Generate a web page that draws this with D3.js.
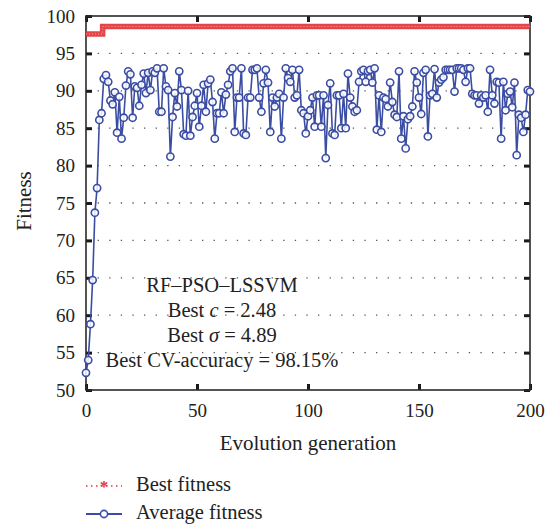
<!DOCTYPE html>
<html>
<head>
<meta charset="utf-8">
<script src="https://cdn.jsdelivr.net/npm/d3@7"></script>
<style>
  body { margin: 0; background: #fff; }
  svg { font-family: "Liberation Serif", "DejaVu Serif", serif; }
</style>
</head>
<body>
<svg id="chart" width="552" height="527"></svg>
<script>
// average fitness, one value per generation (0..200)
let avgFitness = [
  52.3, 54.0, 58.8, 64.7, 73.7, 77.0, 86.1, 87.0, 91.6, 92.1,
  91.2, 88.7, 88.2, 89.8, 84.4, 89.2, 83.6, 86.4, 90.7, 92.6,
  92.2, 86.4, 90.6, 90.4, 88.0, 90.8, 92.3, 89.7, 92.4, 90.1,
  92.6, 92.4, 93.0, 87.2, 87.2, 93.0, 90.6, 90.1, 81.2, 86.5,
  89.7, 87.9, 92.6, 90.1, 84.2, 84.0, 90.0, 84.0, 86.5, 88.0,
  89.7, 85.2, 88.0, 90.8, 87.2, 91.0, 91.5, 88.5, 83.6, 87.0,
  87.0, 89.8, 87.0, 89.5, 90.8, 92.6, 93.0, 84.5, 89.1, 89.1,
  93.0, 84.3, 84.1, 89.1, 89.1, 92.8, 92.8, 93.0, 89.1, 87.2,
  91.0, 92.8, 91.1, 84.5, 89.1, 87.9, 89.1, 89.6, 83.6, 89.1,
  93.0, 91.7, 91.2, 92.8, 89.1, 89.4, 92.8, 87.4, 87.0, 84.3,
  86.6, 87.4, 89.1, 85.2, 89.4, 89.4, 85.2, 89.4, 81.0, 88.1,
  91.0, 84.3, 84.1, 89.4, 89.4, 85.0, 89.6, 85.0, 92.3, 89.1,
  87.9, 87.2, 87.4, 91.2, 92.6, 92.8, 91.2, 92.6, 92.8, 91.1,
  93.0, 84.8, 89.4, 84.5, 89.1, 88.9, 87.9, 91.1, 88.5, 86.8,
  86.5, 92.6, 83.6, 86.6, 82.3, 86.2, 86.6, 87.9, 92.6, 91.1,
  89.1, 86.9, 92.4, 92.8, 83.9, 89.4, 89.6, 92.9, 89.1, 91.1,
  91.5, 91.8, 92.8, 92.8, 92.8, 92.8, 89.9, 93.0, 93.0, 93.0,
  92.8, 91.2, 93.0, 93.0, 89.6, 89.4, 89.4, 88.3, 89.4, 89.1,
  89.4, 87.2, 92.8, 89.4, 88.3, 91.2, 91.1, 83.6, 91.2, 87.4,
  89.6, 89.9, 87.8, 91.1, 81.4, 86.8, 86.4, 84.5, 86.8, 90.1,
  89.9
];

// best fitness: step from 97.6 to 98.6 after generation 7
let bestGens = [0, 7, 8, 200];
let bestVals = [97.6, 97.6, 98.6, 98.6];

let xTicks = [0, 50, 100, 150, 200];
let yTicks = [50, 55, 60, 65, 70, 75, 80, 85, 90, 95, 100];
let gridVals = [55, 60, 65, 70, 75, 80, 85, 90, 95];

let noteLines = ["RF\u2013PSO\u2013LSSVM", "Best c = 2.48", "Best \u03c3 = 4.89", "Best CV-accuracy = 98.15%"];
let legendLabels = ["Best fitness", "Average fitness"];

let blue = "#3b4da3";
let red = "#e3343a";

let svg = d3.select("#chart");

let xScale = d3.scaleLinear().domain([0, 200]).range([86, 530]);
let yScale = d3.scaleLinear().domain([50, 100]).range([390, 16]);

// dotted horizontal grid
svg.append("g")
   .selectAll("line")
   .data(gridVals)
   .enter()
   .append("line")
   .attr("x1", xScale(0))
   .attr("x2", xScale(200))
   .attr("y1", d => yScale(d))
   .attr("y2", d => yScale(d))
   .attr("stroke", "#555")
   .attr("stroke-width", 1.3)
   .attr("stroke-dasharray", "1.3,10.3");

// axes: inward thick ticks on all four sides
const styleAxis = (g) => {
    g.select(".domain").remove();
    g.selectAll(".tick line").attr("stroke", "#1a1a1a").attr("stroke-width", 3);
    g.selectAll(".tick text")
     .attr("fill", "#222")
     .style("font-size", "19px")
     .style("font-family", "Liberation Serif, DejaVu Serif, serif");
}

svg.append("g")
   .attr("transform", `translate(${xScale(0)},0)`)
   .call(d3.axisLeft(yScale).tickValues(yTicks).tickSize(-6).tickPadding(11))
   .call(styleAxis);

svg.append("g")
   .attr("transform", `translate(${xScale(200)},0)`)
   .call(d3.axisRight(yScale).tickValues(yTicks).tickSize(-6).tickFormat(""))
   .call(styleAxis);

svg.append("g")
   .attr("transform", `translate(0,${yScale(50)})`)
   .call(d3.axisBottom(xScale).tickValues(xTicks).tickSize(-6).tickPadding(14))
   .call(styleAxis);

svg.append("g")
   .attr("transform", `translate(0,${yScale(100)})`)
   .call(d3.axisTop(xScale).tickValues(xTicks).tickSize(-6).tickFormat(""))
   .call(styleAxis);

// frame
svg.append("rect")
   .attr("x", xScale(0))
   .attr("y", yScale(100))
   .attr("width", xScale(200) - xScale(0))
   .attr("height", yScale(50) - yScale(100))
   .attr("fill", "none")
   .attr("stroke", "#2a2a2a")
   .attr("stroke-width", 1.6);

// axis titles
svg.append("text")
   .attr("x", (xScale(0) + xScale(200)) / 2)
   .attr("y", 450)
   .attr("text-anchor", "middle")
   .attr("fill", "#222")
   .style("font-size", "21px")
   .text("Evolution generation");

svg.append("text")
   .attr("transform", `translate(31,201) rotate(-90)`)
   .attr("text-anchor", "middle")
   .attr("fill", "#222")
   .style("font-size", "21px")
   .text("Fitness");

// best fitness band
let bestData = bestGens.map((g, i) => [g, bestVals[i]]);
let bestLine = d3.line().x(d => xScale(d[0])).y(d => yScale(d[1])).curve(d3.curveStep);
svg.append("path")
   .datum(bestData)
   .attr("fill", "none")
   .attr("stroke", red)
   .attr("stroke-width", 5.5)
   .attr("opacity", 0.92)
   .attr("d", bestLine);

svg.append("path")
   .datum(bestData)
   .attr("fill", "none")
   .attr("stroke", "#f3a3a3")
   .attr("stroke-width", 1)
   .attr("stroke-dasharray", "1,2")
   .attr("d", bestLine);

// average fitness line + open circles
svg.append("path")
   .datum(avgFitness)
   .attr("fill", "none")
   .attr("stroke", blue)
   .attr("stroke-width", 1.6)
   .attr("d", d3.line().x((d, i) => xScale(i)).y(d => yScale(d)));

svg.append("g")
   .selectAll("circle")
   .data(avgFitness)
   .enter()
   .append("circle")
   .attr("cx", (d, i) => xScale(i))
   .attr("cy", d => yScale(d))
   .attr("r", 3.6)
   .attr("fill", "#fff")
   .attr("fill-opacity", 0.85)
   .attr("stroke", blue)
   .attr("stroke-width", 1.6);

// annotation
let note = svg.append("g").attr("fill", "#222").style("font-size", "20.5px");
let noteY = [292, 317, 342, 367];
note.append("text").attr("x", 222).attr("y", noteY[0]).attr("text-anchor", "middle").text(noteLines[0]);
let t1 = note.append("text").attr("x", 222).attr("y", noteY[1]).attr("text-anchor", "middle");
t1.append("tspan").text("Best ");
t1.append("tspan").style("font-style", "italic").text("c");
t1.append("tspan").text(" = 2.48");
let t2 = note.append("text").attr("x", 222).attr("y", noteY[2]).attr("text-anchor", "middle");
t2.append("tspan").text("Best ");
t2.append("tspan").style("font-style", "italic").text("\u03c3");
t2.append("tspan").text(" = 4.89");
note.append("text").attr("x", 222).attr("y", noteY[3]).attr("text-anchor", "middle").text(noteLines[3]);

// legend
let legend = svg.append("g");
legend.append("line")
   .attr("x1", 86).attr("x2", 122).attr("y1", 486).attr("y2", 486)
   .attr("stroke", red).attr("stroke-width", 1.5).attr("stroke-dasharray", "1.5,3.5");
legend.append("text")
   .attr("x", 104).attr("y", 492)
   .attr("text-anchor", "middle")
   .attr("fill", red)
   .style("font-size", "17px").style("font-weight", "bold")
   .text("*");
legend.append("text")
   .attr("x", 136).attr("y", 491)
   .attr("fill", "#222").style("font-size", "20.5px")
   .text(legendLabels[0]);

legend.append("line")
   .attr("x1", 86).attr("x2", 122).attr("y1", 514).attr("y2", 514)
   .attr("stroke", blue).attr("stroke-width", 1.8);
legend.append("circle")
   .attr("cx", 104).attr("cy", 514).attr("r", 3.6)
   .attr("fill", "#fff").attr("stroke", blue).attr("stroke-width", 1.6);
legend.append("text")
   .attr("x", 136).attr("y", 519)
   .attr("fill", "#222").style("font-size", "20.5px")
   .text(legendLabels[1]);
</script>
</body>
</html>
